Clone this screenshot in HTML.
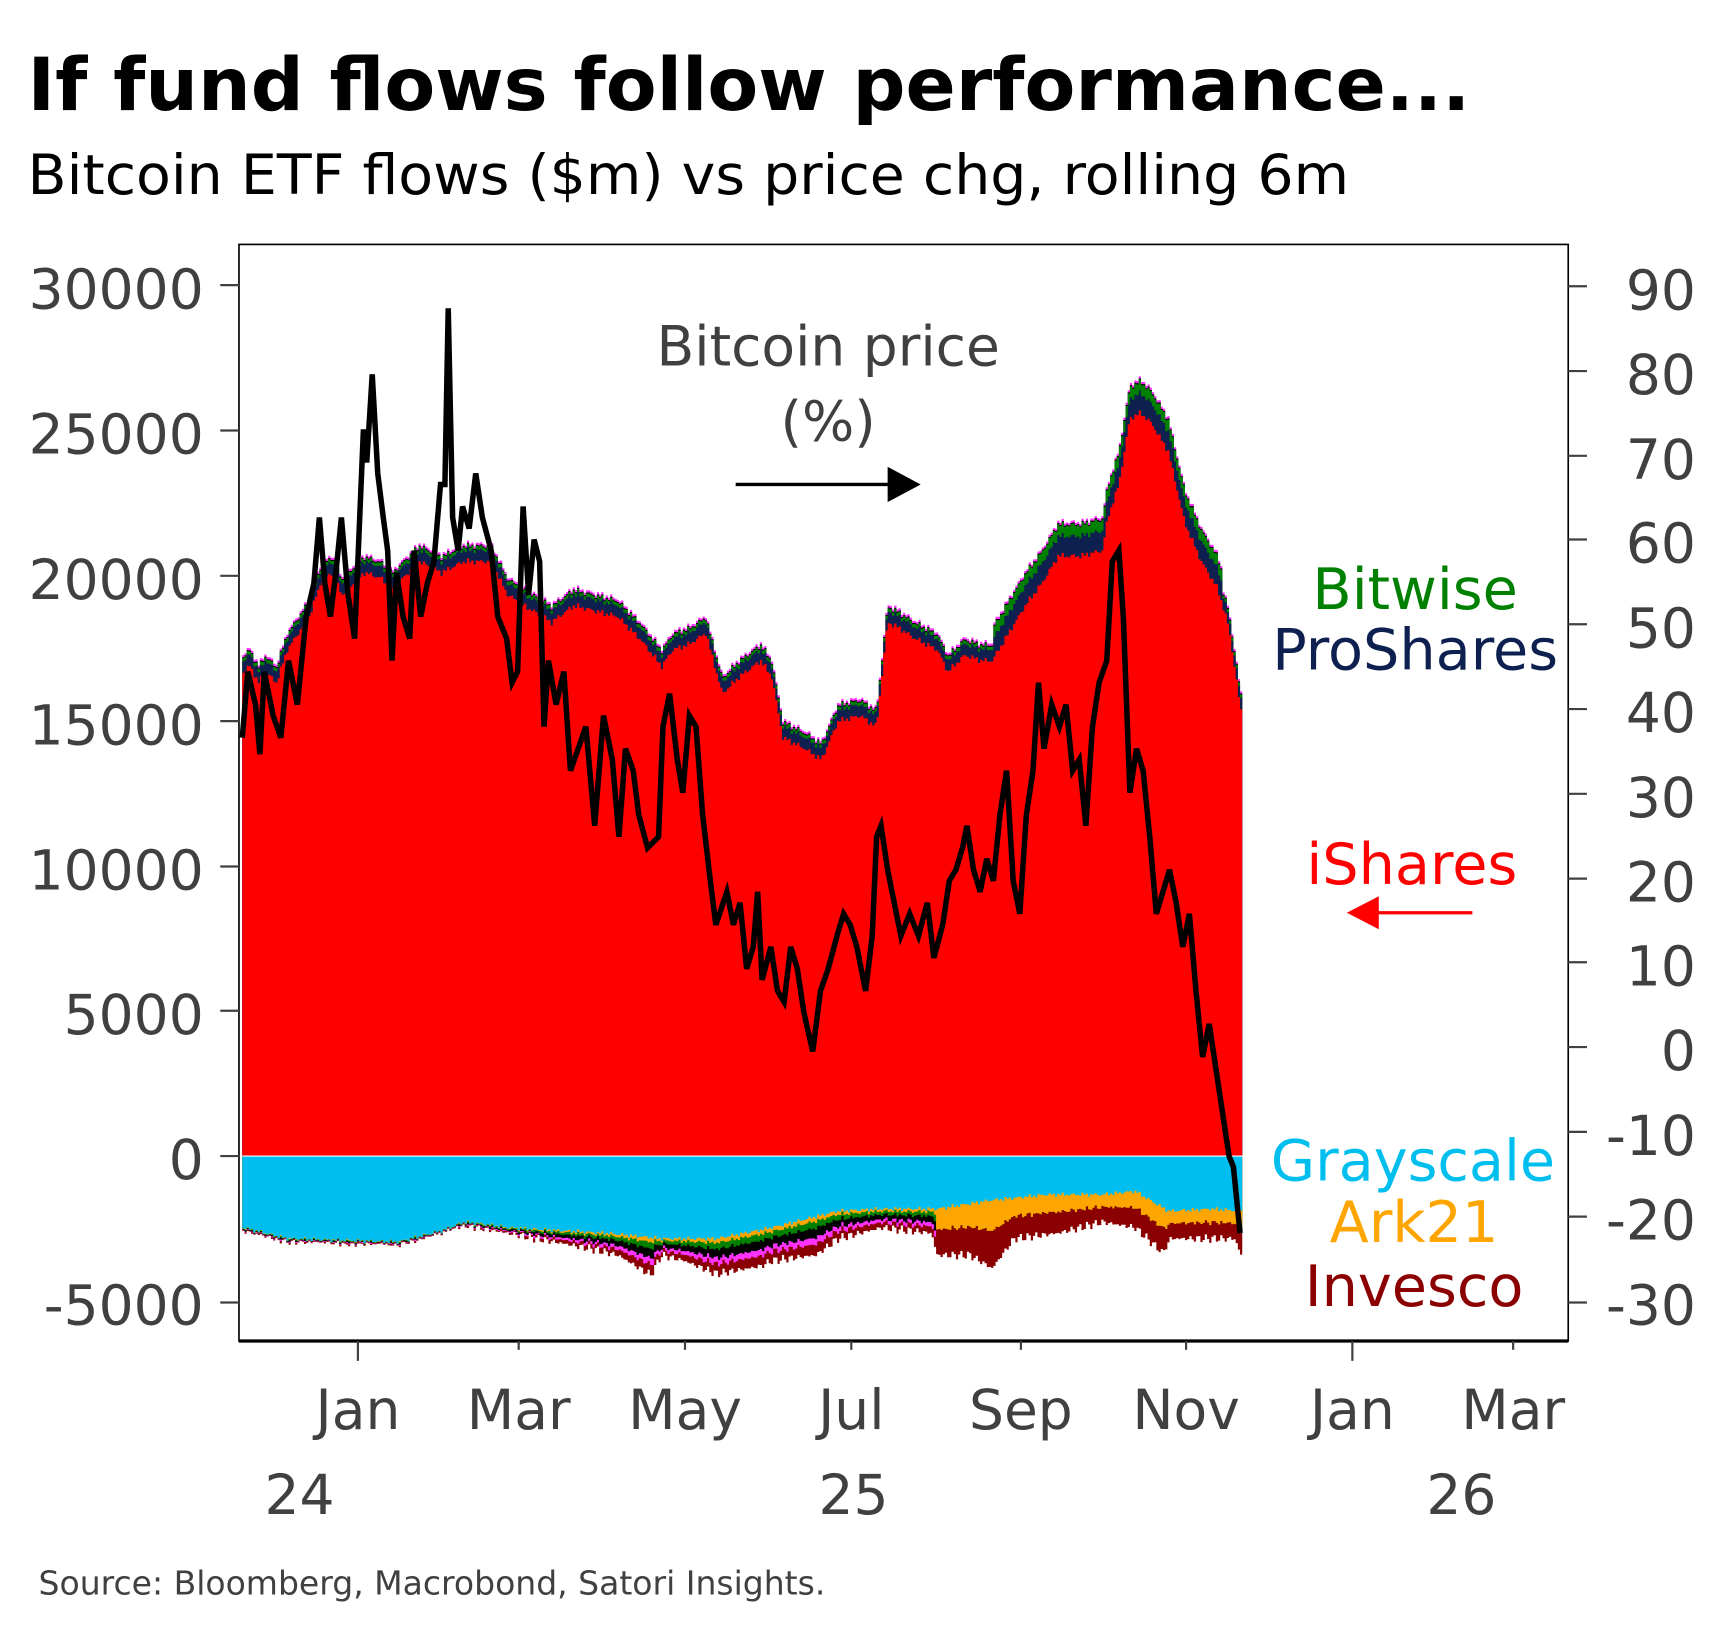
<!DOCTYPE html>
<html><head><meta charset="utf-8"><style>
html,body{margin:0;padding:0;background:#fff}
svg{display:block}
text{font-family:"DejaVu Sans","Liberation Sans",sans-serif}
</style></head><body>
<svg id="s" width="1718" height="1635" viewBox="0 0 1560 1485" preserveAspectRatio="none" xmlns="http://www.w3.org/2000/svg">
<text x="25" y="100" font-size="66" font-weight="bold" fill="#000" textLength="1310" lengthAdjust="spacingAndGlyphs">If fund flows follow performance...</text>
<text x="25" y="176" font-size="50" fill="#000" textLength="1200" lengthAdjust="spacingAndGlyphs">Bitcoin ETF flows ($m) vs price chg, rolling 6m</text>
<g id="plot"></g>
<rect x="217" y="222" width="1207" height="996" fill="none" stroke="#000" stroke-width="1.5"/>
<line x1="217" y1="1218" x2="1424" y2="1218" stroke="#000" stroke-width="3"/>
<g fill="#404040" font-size="50">
<text x="185" y="280" text-anchor="end">30000</text>
<text x="185" y="412" text-anchor="end">25000</text>
<text x="185" y="544" text-anchor="end">20000</text>
<text x="185" y="676" text-anchor="end">15000</text>
<text x="185" y="808" text-anchor="end">10000</text>
<text x="185" y="939" text-anchor="end">5000</text>
<text x="185" y="1071" text-anchor="end">0</text>
<text x="185" y="1203" text-anchor="end">-5000</text>
<g text-anchor="end">
<text x="1540" y="281">90</text><text x="1540" y="358">80</text><text x="1540" y="435">70</text>
<text x="1540" y="511">60</text><text x="1540" y="588">50</text><text x="1540" y="665">40</text>
<text x="1540" y="742">30</text><text x="1540" y="819">20</text><text x="1540" y="895">10</text>
<text x="1540" y="972">0</text><text x="1540" y="1049">-10</text><text x="1540" y="1126">-20</text>
<text x="1540" y="1203">-30</text></g>
<g text-anchor="middle">
<text x="325" y="1298">Jan</text><text x="471" y="1298">Mar</text><text x="622" y="1298">May</text>
<text x="773" y="1298">Jul</text><text x="927" y="1298">Sep</text><text x="1077" y="1298">Nov</text>
<text x="1228" y="1298">Jan</text><text x="1374" y="1298">Mar</text>
<text x="272" y="1375">24</text><text x="775" y="1375">25</text><text x="1327" y="1375">26</text></g>
</g>
<g stroke="#404040" stroke-width="2" id="ticks"></g>
<text x="752" y="332" font-size="50" fill="#404040" text-anchor="middle">Bitcoin price</text>
<text x="752" y="400" font-size="50" fill="#404040" text-anchor="middle">(%)</text>
<line x1="668" y1="440" x2="808" y2="440" stroke="#000" stroke-width="3"/>
<polygon points="806,424 836,440 806,456" fill="#000"/>
<g font-size="52" text-anchor="middle">
<text x="1285" y="553" fill="#008000">Bitwise</text>
<text x="1285" y="608" fill="#0d2050">ProShares</text>
<text x="1282" y="803" fill="#ff0000">iShares</text>
<text x="1283" y="1072" fill="#00bfef">Grayscale</text>
<text x="1284" y="1128" fill="#ffa500">Ark21</text>
<text x="1284" y="1186" fill="#8b0000">Invesco</text>
</g>
<line x1="1250" y1="829" x2="1337" y2="829" stroke="#ff0000" stroke-width="3"/>
<polygon points="1252,814 1223,829 1252,844" fill="#ff0000"/>
<text x="35" y="1448" font-size="30" fill="#404040">Source: Bloomberg, Macrobond, Satori Insights.</text>
</svg>
<script>
(function(){
var NS="http://www.w3.org/2000/svg";
function el(p,t,a){var e=document.createElementNS(NS,t);for(var k in a)e.setAttribute(k,a[k]);p.appendChild(e);return e;}
var g=document.getElementById("plot"),tk=document.getElementById("ticks");
function parse(s){return s.trim().split(/\s+/).map(function(p){var q=p.split(":");return[+q[0],+q[1]];});}
function interp(pts,x){if(x<=pts[0][0])return pts[0][1];for(var i=1;i<pts.length;i++){if(x<=pts[i][0]){var a=pts[i-1],b=pts[i];return a[1]+(b[1]-a[1])*(x-a[0])/(b[0]-a[0]);}}return pts[pts.length-1][1];}
var red=parse("220:610 226:605 234:620 240:610 250:620 260:590 270:575 280:560 290:530 300:520 310:540 330:520 345:525 355:535 365:525 380:510 400:520 420:510 445:510 460:540 475:550 500:565 520:550 540:555 560:560 580:580 600:605 610:590 625:585 640:575 655:630 670:615 690:600 700:615 710:670 730:680 745:690 760:655 780:650 795:660 805:565 815:570 830:580 850:590 860:610 875:595 890:600 900:600 915:575 930:550 945:530 960:505 980:505 1000:500 1005:470 1015:440 1025:380 1035:375 1045:385 1060:410 1075:475 1090:510 1105:535 1115:570 1125:640 1127:650");
var cyanB=parse("220:1115 260:1125 360:1128 400:1118 420:1110 440:1112 460:1115 550:1120 600:1125 650:1125 700:1115 760:1100 800:1098 850:1098 900:1090 950:1085 1000:1085 1030:1082 1060:1100 1100:1098 1127:1100");
var totB=parse("220:1118 260:1127 360:1130 420:1112 460:1120 540:1135 560:1140 590:1158 600:1140 620:1145 650:1157 690:1150 700:1145 740:1140 760:1125 800:1115 845:1120 850:1140 880:1140 900:1152 920:1125 960:1120 1000:1110 1030:1115 1055:1138 1062:1125 1120:1125 1127:1142");
var X0=220,X1=1127,step=2,xs=[];for(var x=X0;x<=X1;x+=step)xs.push(x);
function noise(x,a){return a*(Math.sin(x*1.7)+Math.sin(x*0.63+1)*0.8)/1.8;}
function offs(x){var f=(x>900&&x<1110)?1:0.45;return {navy:14*f+4,green:(x>900&&x<1110?10:3)};}
function band(topF,botF,fill){var top=[];xs.forEach(function(x){top.push([x,topF(x)]);});
 var s="";top.forEach(function(p,i){s+=(i?"L":"M")+p[0]+","+p[1].toFixed(1)+"L"+(p[0]+step)+","+p[1].toFixed(1);});
 for(var i=xs.length-1;i>=0;i--){var y=botF(xs[i]);s+="L"+(xs[i]+step)+","+y.toFixed(1)+"L"+xs[i]+","+y.toFixed(1);}
 el(g,"path",{d:s+"Z",fill:fill});}
function rt(x){return interp(red,x)+noise(x,3);}
var Z=1050;
band(function(x){var o=offs(x);return rt(x)-o.navy-o.green-3;},function(){return Z;},"#ff33ff");
band(function(x){var o=offs(x);return rt(x)-o.navy-o.green-1;},function(){return Z;},"#000");
band(function(x){var o=offs(x);return rt(x)-o.navy-o.green;},function(){return Z;},"#008000");
band(function(x){return rt(x)-offs(x).navy;},function(){return Z;},"#0d2050");
band(rt,function(){return Z;},"#ff0000");
function cb(x){return interp(cyanB,x)+noise(x,2);}
function tb(x){return Math.max(interp(totB,x)+noise(x*1.3,4),cb(x)+2);}
band(function(){return Z;},tb,"#8b0000");
band(function(){return Z;},function(x){var c=cb(x),t=tb(x);return x>=850?c+(t-c)*0.1:c+(t-c)*0.72;},"#ff33ff");
band(function(){return Z;},function(x){var c=cb(x),t=tb(x);return x>=850?c+(t-c)*0.05:c+(t-c)*0.55;},"#000");
band(function(){return Z;},function(x){var c=cb(x),t=tb(x);return x>=850?c+(t-c)*0.45:c+(t-c)*0.3;},"#008000");
band(function(){return Z;},function(x){var c=cb(x),t=tb(x);return x>=850?c+(t-c)*0.45:c+(t-c)*0.12;},"#ffa500");
band(function(){return Z;},cb,"#00bff0");
el(g,"line",{x1:X0,y1:Z,x2:X1+2,y2:Z,stroke:"#fff","stroke-width":1});
var price=parse("220:670 225:610 232:640 236:685 240:610 248:650 255:670 262:600 270:640 278:560 285:530 290:470 295:530 300:560 305:520 310:470 316:540 322:580 330:390 333:420 338:340 343:430 348:470 352:500 356:600 360:520 366:560 372:580 376:500 382:560 388:530 394:510 400:440 404:440 407:280 411:470 416:500 420:460 426:480 432:430 438:470 446:500 452:560 460:580 465:620 470:610 475:460 480:540 485:490 490:510 494:660 498:600 505:640 512:610 518:700 525:680 532:660 540:750 548:650 556:690 562:760 568:680 575:700 580:740 588:770 598:760 602:660 608:630 615:690 620:720 626:650 632:660 638:740 645:800 650:840 660:810 666:840 672:820 678:880 684:860 688:810 692:890 700:860 706:900 712:910 718:860 724:880 730:920 738:955 745:900 752:880 760:850 766:830 772:840 778:860 786:900 792:850 796:760 800:750 806:790 812:820 818:850 826:830 834:850 842:820 848:870 856:840 862:800 868:790 874:770 878:750 884:790 890:810 896:780 902:800 908:740 914:700 920:800 926:830 932:740 938:700 943:620 948:680 955:640 962:660 968:640 974:700 980:690 986:750 992:660 998:620 1005:600 1010:510 1016:500 1020:560 1026:720 1032:680 1038:700 1044:760 1050:830 1056:810 1062:790 1068:820 1074:860 1080:830 1086:900 1092:960 1098:930 1104:970 1110:1010 1116:1050 1120:1060 1126:1120");
el(g,"polyline",{points:price.map(function(p){return p.join(",");}).join(" "),fill:"none",stroke:"#000","stroke-width":5,"stroke-linejoin":"miter"});
[259,391,523,655,787,918,1050,1183].forEach(function(y){el(tk,"line",{x1:200,x2:217,y1:y,y2:y});});
[260,337,414,490,567,644,721,798,874,951,1028,1105,1183].forEach(function(y){el(tk,"line",{x1:1424,x2:1441,y1:y,y2:y});});
[[325,1],[471,0],[622,0],[773,0],[927,0],[1077,0],[1228,1],[1374,0]].forEach(function(t){el(tk,"line",{x1:t[0],x2:t[0],y1:1218,y2:t[1]?1236:1226});});
})();
</script>
</body></html>
